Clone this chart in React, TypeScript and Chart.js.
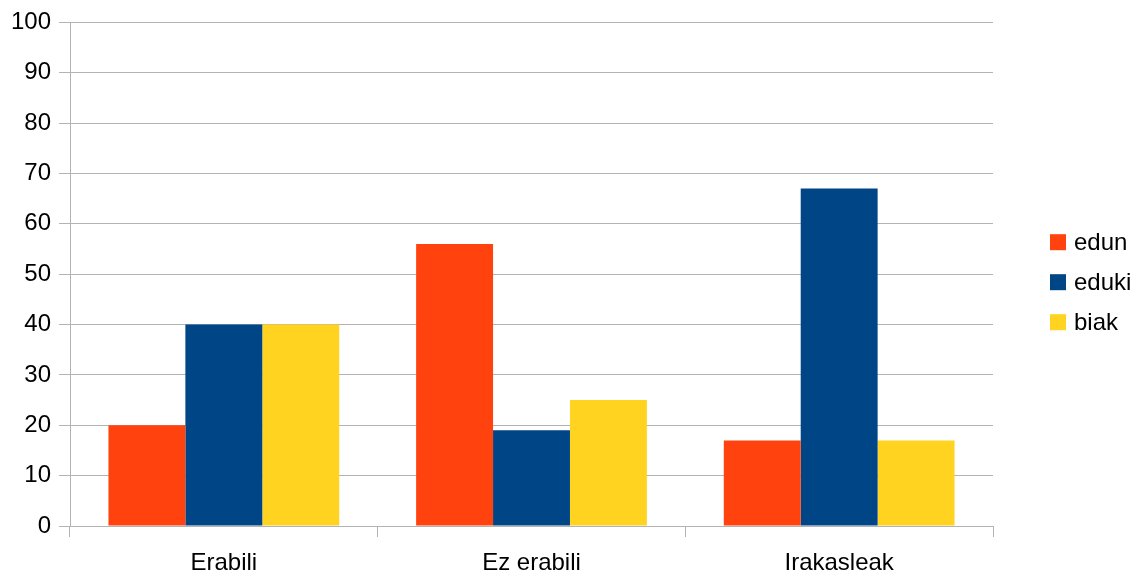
import React, { useEffect, useRef } from "react";
import { Chart, registerables } from "chart.js";

Chart.register(...registerables);

const categories = ["Erabili", "Ez erabili", "Irakasleak"];
const seriesNames = ["edun", "eduki", "biak"];
const edunValues = [20, 56, 17];
const edukiValues = [40, 19, 67];
const biakValues = [40, 25, 17];
const seriesColors = ["#ff420e", "#004586", "#ffd320"];
const yTicks = [0, 10, 20, 30, 40, 50, 60, 70, 80, 90, 100];

const FONT = "'Liberation Sans', Arial, sans-serif";
const FONT_SIZE = 24;
const GRID = "#b3b3b3";

// Legend drawn to the right of the plot area, one square swatch per series
const sideLegend = {
  id: "sideLegend",
  afterDraw(chart: any) {
    const { ctx, chartArea } = chart;
    const x = chartArea.right + 57;
    const midY = (chartArea.top + chartArea.bottom) / 2 + 8;
    const step = 40;
    const n = chart.data.datasets.length;
    ctx.save();
    ctx.font = `${FONT_SIZE}px ${FONT}`;
    ctx.textBaseline = "middle";
    ctx.textAlign = "left";
    chart.data.datasets.forEach((ds: any, i: number) => {
      const cy = midY + (i - (n - 1) / 2) * step;
      ctx.fillStyle = ds.backgroundColor;
      ctx.fillRect(x, cy - 8, 16, 16);
      ctx.fillStyle = "#000";
      ctx.fillText(ds.label, x + 24, cy + 1);
    });
    ctx.restore();
  },
};

export default function App() {
  const ref = useRef<HTMLCanvasElement>(null);

  useEffect(() => {
    if (!ref.current) return;
    const values = [edunValues, edukiValues, biakValues];
    const chart = new Chart(ref.current, {
      type: "bar",
      data: {
        labels: categories,
        datasets: seriesNames.map((name, i) => ({
          label: name,
          data: values[i],
          backgroundColor: seriesColors[i],
          borderWidth: 0,
          categoryPercentage: 0.75,
          barPercentage: 1,
        })),
      },
      options: {
        animation: false,
        responsive: false,
        maintainAspectRatio: false,
        layout: { padding: { top: 22, right: 145, left: 0, bottom: 0 } },
        plugins: {
          legend: { display: false },
          tooltip: { enabled: false },
        },
        scales: {
          x: {
            grid: {
              display: true,
              drawOnChartArea: false,
              drawTicks: true,
              tickLength: 11,
              color: GRID,
              offset: true,
            },
            border: { display: true, color: GRID },
            ticks: {
              color: "#000",
              font: { family: FONT, size: FONT_SIZE },
              padding: 12,
              maxRotation: 0,
            },
            afterFit(scale: any) {
              scale.height = 47;
            },
          },
          y: {
            min: 0,
            max: 100,
            afterBuildTicks(scale: any) {
              scale.ticks = yTicks.map((v) => ({ value: v }));
            },
            grid: {
              color: GRID,
              tickLength: 11,
              drawTicks: true,
            },
            border: { display: true, color: GRID },
            ticks: {
              color: "#000",
              font: { family: FONT, size: FONT_SIZE },
              padding: 8,
            },
            afterFit(scale: any) {
              scale.width = 70;
            },
          },
        },
      },
      plugins: [sideLegend],
    });
    return () => chart.destroy();
  }, []);

  return (
    <div
      style={{
        position: "fixed",
        left: 0,
        top: 0,
        width: 1138,
        height: 573,
        background: "#fff",
      }}
    >
      <canvas ref={ref} width={1138} height={573} />
    </div>
  );
}
